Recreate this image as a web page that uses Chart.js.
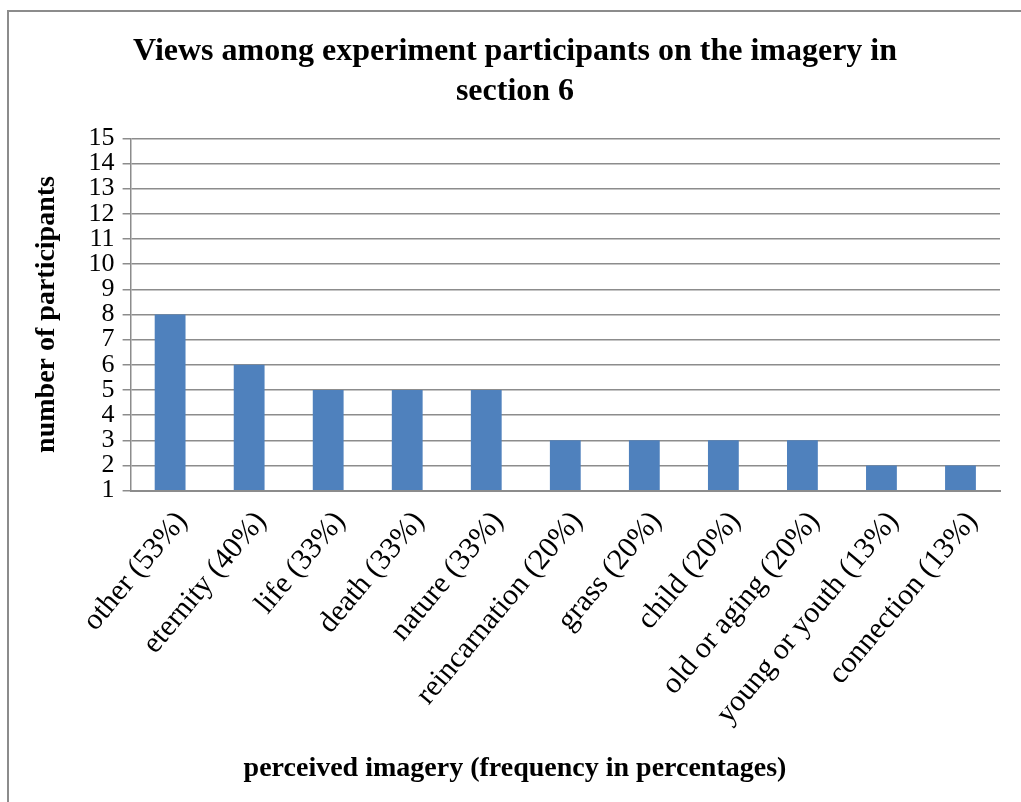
<!DOCTYPE html>
<html>
<head>
<meta charset="utf-8">
<script src="https://cdn.jsdelivr.net/npm/chart.js@4"></script>
<style>
  html, body { margin: 0; padding: 0; background: #fff; }
  #frame { position: absolute; left: 7px; top: 10px; width: 1100px; height: 900px; border: 2px solid #8c8c8c; }
  #wrap { position: absolute; left: 0; top: 0; width: 1021px; height: 802px; }
</style>
</head>
<body>
<div id="frame"></div>
<div id="wrap"><canvas id="c"></canvas></div>
<script>
// Views among experiment participants — section 6
const CATEGORIES = [
  "other (53%)", "eternity (40%)", "life (33%)", "death (33%)", "nature (33%)",
  "reincarnation (20%)", "grass (20%)", "child (20%)", "old or aging (20%)",
  "young or youth (13%)", "connection (13%)"
];
const PARTICIPANTS = [8, 6, 5, 5, 5, 3, 3, 3, 3, 2, 2];
const Y_MIN = 1, Y_MAX = 15, Y_STEP = 1;

const BLUE = "#4F81BD", GRID = "#8c8c8c";
const SERIF = "'Liberation Serif', 'Times New Roman', serif";

new Chart(document.getElementById("c"), {
  type: "bar",
  data: {
    labels: CATEGORIES,
    datasets: [{ label: "number of participants", data: PARTICIPANTS, backgroundColor: BLUE,
      barPercentage: 0.78, categoryPercentage: 0.5, base: Y_MIN }]
  },
  options: {
    responsive: true, maintainAspectRatio: false, animation: false,
    layout: { padding: { left: 30, right: 21, top: 31, bottom: 16 } },
    plugins: {
      legend: { display: false },
      tooltip: { enabled: false },
      title: {
        display: true, color: "#000",
        text: ["Views among experiment participants on the imagery in", "section 6"],
        font: { family: SERIF, size: 32, weight: "bold", lineHeight: 1.27 },
        padding: { top: 0, bottom: 26 }
      },
      // x-axis caption, centred on the whole chart like the original
      subtitle: {
        display: true, position: "bottom", color: "#000",
        text: "perceived imagery (frequency in percentages)",
        font: { family: SERIF, size: 28, weight: "bold", lineHeight: 1.2 },
        padding: { top: 15, bottom: 0 }
      }
    },
    scales: {
      x: {
        grid: { display: false },
        border: { display: true, color: GRID, width: 2 },
        ticks: { color: "#000", minRotation: 50, maxRotation: 50, padding: 6, labelOffset: 12,
          font: { family: SERIF, size: 30 } }
      },
      y: {
        min: Y_MIN, max: Y_MAX,
        grid: { color: GRID, lineWidth: 1.5, tickLength: 8 },
        border: { display: true, color: GRID, width: 1.5 },
        ticks: { stepSize: Y_STEP, color: "#000", padding: 8, autoSkip: false,
          font: { family: SERIF, size: 26, lineHeight: 1 } },
        title: { display: true, text: "number of participants", color: "#000",
          font: { family: SERIF, size: 28, weight: "bold" }, padding: { top: 0, bottom: 17 } }
      }
    }
  }
});
</script>
</body>
</html>
